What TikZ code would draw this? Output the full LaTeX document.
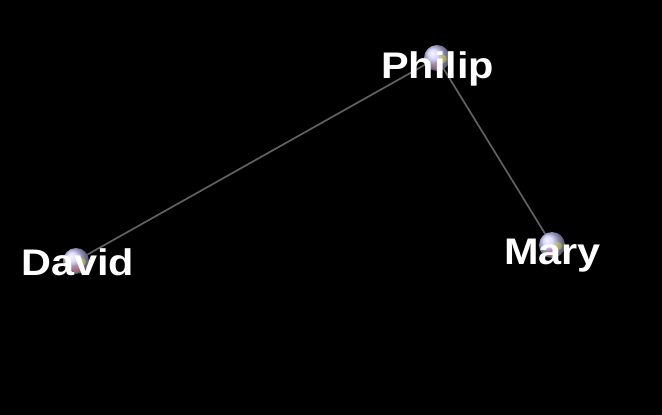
\documentclass[tikz,border=0pt]{standalone}
\usepackage{fontspec}
\setmainfont{Liberation Sans}
\begin{document}
\begin{tikzpicture}[x=1pt,y=-1pt,
  ball/.style={circle,minimum size=26pt,inner sep=0pt,ball color=blue!20!white},
  lbl/.style={anchor=base west,inner sep=0pt,text=white,font=\fontsize{37}{37}\selectfont\bfseries},
  edge/.style={draw=black!62!white,line width=1.7pt}]
\fill[black] (0,0) rectangle (662,415);
\useasboundingbox (0,0) rectangle (662,415);
\coordinate (P) at (437,58);
\coordinate (D) at (76,261);
\coordinate (M) at (552,245);
\draw[edge] (P) -- (D);
\draw[edge] (P) -- (M);
\foreach \n/\c in {pb/P,db/D,mb/M}{
  \node[ball] (\n) at (\c) {};
  \fill[yellow,opacity=0.35] ([shift={(6,1)}]\c) circle (4);
  \fill[red!60!white,opacity=0.35] ([shift={(0,8)}]\c) circle (4);
}
\node[lbl] (pl) at (381,78) {\scalebox{1.12}[1]{Philip}};
\node[lbl] (dl) at (21,275) {\scalebox{1.12}[1]{David}};
\node[lbl] (ml) at (504,264) {\scalebox{1.12}[1]{Mary}};
\end{tikzpicture}
\end{document}
